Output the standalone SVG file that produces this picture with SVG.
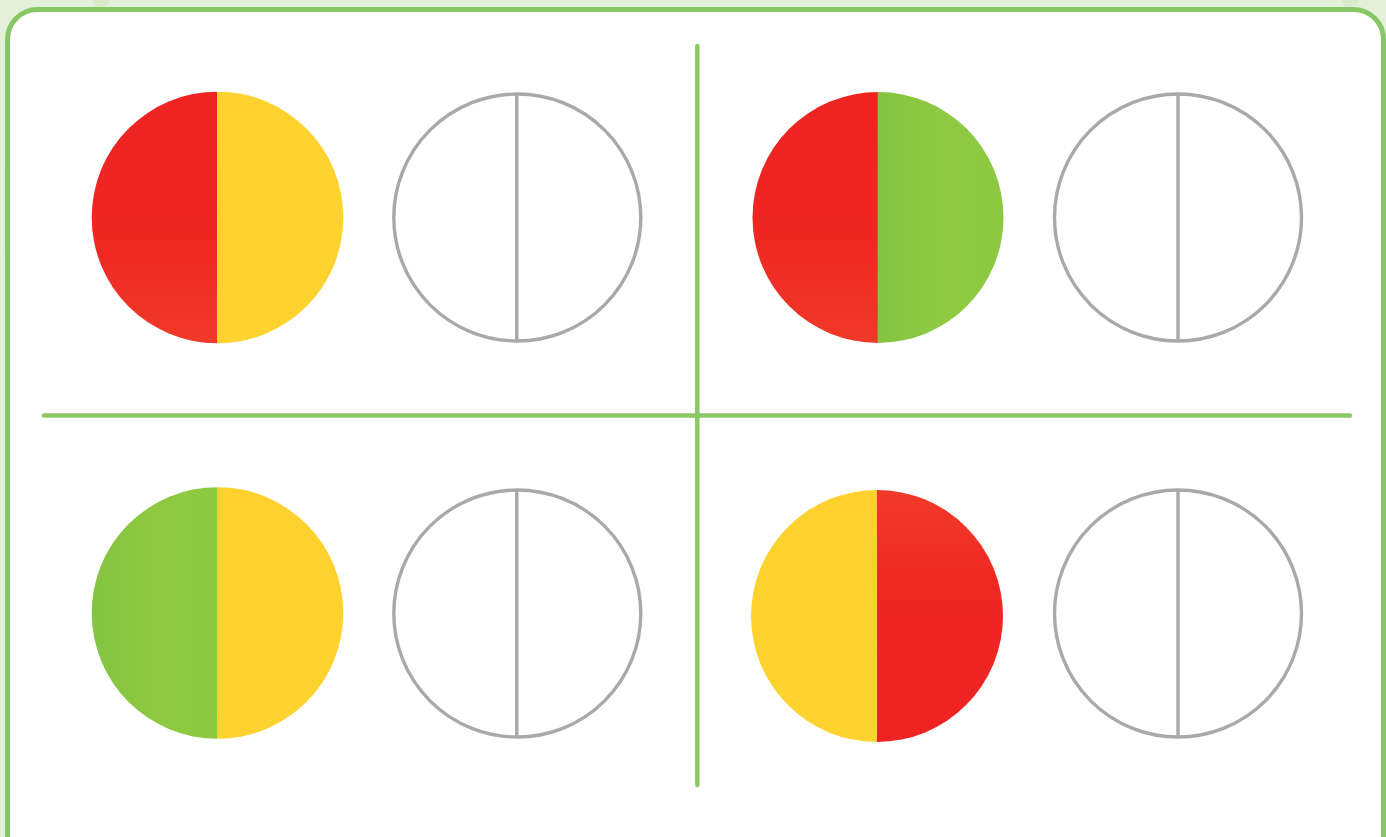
<svg xmlns="http://www.w3.org/2000/svg" width="1386" height="837" viewBox="0 0 1386 837">
  <style>
    .divider { stroke: #8cc965; stroke-width: 4.5; stroke-linecap: round; fill: none; }
    .blank { fill: #ffffff; stroke: #a9a9ab; stroke-width: 3.4; }
    .blank-line { stroke: #a9a9ab; stroke-width: 3.4; }
    .red { fill: url(#redGrad); }
    .yellow { fill: url(#yellowGrad); }
    .green { fill: url(#greenGrad); }
  </style>
  <defs>
    <linearGradient id="redGrad" x1="0" y1="0" x2="0" y2="1">
      <stop offset="0" stop-color="#ee2322"/>
      <stop offset="0.6" stop-color="#ef2723"/>
      <stop offset="1" stop-color="#f03a29"/>
    </linearGradient>
    <linearGradient id="yellowGrad" x1="0" y1="0" x2="0" y2="1">
      <stop offset="0" stop-color="#fed12e"/>
      <stop offset="1" stop-color="#fed32f"/>
    </linearGradient>
    <linearGradient id="greenGrad" x1="0" y1="0" x2="1" y2="0">
      <stop offset="0" stop-color="#84c442"/>
      <stop offset="0.5" stop-color="#8ec941"/>
      <stop offset="1" stop-color="#8cc941"/>
    </linearGradient>
    <clipPath id="c1"><circle cx="217.5" cy="217.5" r="125.8"/></clipPath>
    <clipPath id="c2"><circle cx="878" cy="217.5" r="125.5"/></clipPath>
    <clipPath id="c3"><circle cx="217.5" cy="613" r="125.8"/></clipPath>
    <clipPath id="c4"><circle cx="877" cy="616" r="126"/></clipPath>
  </defs>

  <!-- page background -->
  <rect x="0" y="0" width="1386" height="837" fill="#e4f0da"/>
  <g fill="#d8eac6" opacity="0.8">
    <circle cx="101" cy="-2" r="9"/>
    <circle cx="1350" cy="-2" r="9"/>
  </g>

  <!-- card -->
  <rect id="card" x="7.5" y="9.5" width="1376" height="860" rx="30" ry="30" fill="#ffffff" stroke="#88c765" stroke-width="5"/>

  <!-- dividers -->
  <g id="connectors">
    <line class="divider" x1="697.3" y1="46" x2="697.3" y2="785"/>
    <line class="divider" x1="44" y1="415.5" x2="1350" y2="415.5"/>
  </g>

  <!-- top-left: red | yellow -->
  <g id="node-tl-colored" clip-path="url(#c1)">
    <rect class="red" x="90" y="90" width="127" height="256"/>
    <rect class="yellow" x="217" y="90" width="128" height="256"/>
  </g>
  <g id="node-tl-blank">
    <circle class="blank" cx="517.3" cy="217.5" r="123.5"/>
    <line class="blank-line" x1="516.8" y1="94" x2="516.8" y2="341"/>
  </g>

  <!-- top-right: red | green -->
  <g id="node-tr-colored" clip-path="url(#c2)">
    <rect class="red" x="750" y="90" width="128" height="256"/>
    <rect class="green" x="877.7" y="90" width="128" height="256"/>
  </g>
  <g id="node-tr-blank">
    <circle class="blank" cx="1178" cy="217.5" r="123.5"/>
    <line class="blank-line" x1="1178" y1="94" x2="1178" y2="341"/>
  </g>

  <!-- bottom-left: green | yellow -->
  <g id="node-bl-colored" clip-path="url(#c3)">
    <rect class="green" x="90" y="485" width="127" height="256"/>
    <rect class="yellow" x="217" y="485" width="128" height="256"/>
  </g>
  <g id="node-bl-blank">
    <circle class="blank" cx="517.3" cy="613.5" r="123.5"/>
    <line class="blank-line" x1="516.8" y1="490" x2="516.8" y2="737"/>
  </g>

  <!-- bottom-right: yellow | red -->
  <g id="node-br-colored" clip-path="url(#c4)">
    <rect class="yellow" x="749" y="488" width="128" height="258"/>
    <rect class="red" x="877" y="488" width="128" height="258" transform="rotate(180 941 617)"/>
  </g>
  <g id="node-br-blank">
    <circle class="blank" cx="1178" cy="613.5" r="123.5"/>
    <line class="blank-line" x1="1178" y1="490" x2="1178" y2="737"/>
  </g>
</svg>
